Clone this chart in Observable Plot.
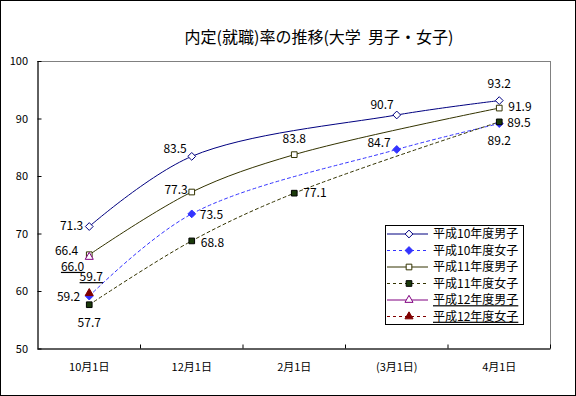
<!DOCTYPE html>
<html><head><meta charset="utf-8">
<script src="https://cdn.jsdelivr.net/npm/d3@7"></script>
<script src="https://cdn.jsdelivr.net/npm/@observablehq/plot@0.6"></script>
<style>
html,body{margin:0;padding:0;background:#fff;}
body{width:576px;height:396px;position:relative;overflow:hidden;font-family:"MS Gothic","Noto Sans CJK JP",sans-serif;}
#border{position:absolute;left:0;top:0;width:576px;height:396px;box-sizing:border-box;border:1px solid #000;pointer-events:none;z-index:5}
#chart{position:absolute;left:0;top:0;}
#title{position:absolute;left:319px;top:24px;transform:translateX(-50%);font-size:16px;white-space:nowrap;color:#000}
#legend{position:absolute;left:385px;top:225px;width:139px;height:100px;box-sizing:border-box;border:1px solid #000;background:#fff;z-index:3}
#legend svg{display:block;overflow:visible}
</style></head><body>
<div id="chart"></div>
<div id="title">内定(就職)率の推移(大学&nbsp;&nbsp;男子・女子)</div>
<div id="legend"></div>
<div id="border"></div>
<script>
const categories = ["10月1日", "12月1日", "2月1日", "(3月1日)", "4月1日"];
const seriesNames = ["平成10年度男子", "平成10年度女子", "平成11年度男子", "平成11年度女子", "平成12年度男子", "平成12年度女子"];
const h10Male   = [71.3, 83.5, null, 90.7, 93.2];
const h10Female = [59.2, 73.5, null, 84.7, 89.2];
const h11Male   = [66.4, 77.3, 83.8, null, 91.9];
const h11Female = [57.7, 68.8, 77.1, null, 89.5];
const h12Male   = [66.0, null, null, null, null];
const h12Female = [59.7, null, null, null, null];
const yTicks = [50, 60, 70, 80, 90, 100];

const seriesValues = [h10Male, h10Female, h11Male, h11Female, h12Male, h12Female];

// styles (layout, not data)
const styles = [
  {stroke: "#000080", dash: null,  symbol: "diamond2", fill: "#ffffff", mstroke: "#000080", r: 3.5},
  {stroke: "#3333ff", dash: "3,3", symbol: "diamond2", fill: "#3333ff", mstroke: "#3333ff", r: 3.5},
  {stroke: "#333300", dash: null,  symbol: "square",   fill: "#ffffff", mstroke: "#333300", r: 3.2},
  {stroke: "#333300", dash: "3,3", symbol: "square",   fill: "#1a3a0a", mstroke: "#000000", r: 3.2},
  {stroke: "#800080", dash: null,  symbol: "triangle", fill: "#ffffff", mstroke: "#800080", r: 3},
  {stroke: "#800000", dash: "3,3", symbol: "triangle", fill: "#800000", mstroke: "#800000", r: 3}
];
// label placement: [anchor, dx, dy]
const labelLayout = [
  [["end", -6, 0], ["end", -5, -7], null, ["end", -3, -10], ["middle", 0, -16]],
  [["end", -9, 1], ["start", 8, 1.5], null, ["end", -6, -6], ["middle", 0, 18]],
  [["end", -11, -3.5], ["end", -4, -2], ["middle", 0, -15], null, ["start", 9, -0.5]],
  [["middle", 0, 18], ["start", 9, 2], ["start", 9, 0], null, ["start", 8, 1.5]],
  [["end", -5, 10], null, null, null, null],
  [["middle", 2, -16], null, null, null, null]
];
const underlined = [false, false, false, false, true, true];

const rows = [];
seriesValues.forEach((vals, s) => vals.forEach((v, i) => { if (v != null) rows.push({s, i, v, name: seriesNames[s]}); }));

const W = 576, H = 396;
const mL = 37.5, mT = 61, mR = 26, mB = 47.5;
const plotW = W - mL - mR, plotH = H - mT - mB;
const font = '"MS Gothic","Noto Sans CJK JP",sans-serif';

const marks = [];
marks.push(Plot.frame({stroke: "#808080"}));
marks.push(Plot.tickY(yTicks, {y: d => d, stroke: "#000", insetRight: plotW - 4}));
marks.push(Plot.tickX(categories.map((_, i) => i + 0.5), {x: d => d, stroke: "#000", insetTop: plotH - 4}));
marks.push(Plot.ruleX([-0.5], {stroke: "#000"}));
marks.push(Plot.ruleY([50], {stroke: "#000"}));
marks.push(Plot.axisY(yTicks, {anchor: "left", label: null, tickSize: 0, tickPadding: 10, fontSize: 11}));
marks.push(Plot.axisX(categories.map((_, i) => i), {anchor: "bottom", label: null, tickSize: 0, tickPadding: 14, fontSize: 11, tickFormat: i => categories[i]}));

styles.forEach((st, s) => {
  const data = rows.filter(r => r.s === s);
  if (data.length > 1) {
    marks.push(Plot.line(data, {x: "i", y: "v", stroke: st.stroke, strokeWidth: 1, strokeDasharray: st.dash || undefined, curve: "catmull-rom"}));
  }
});
styles.forEach((st, s) => {
  const data = rows.filter(r => r.s === s);
  marks.push(Plot.dot(data, {x: "i", y: "v", symbol: () => st.symbol, r: st.r, fill: st.fill, stroke: st.mstroke, strokeWidth: 1}));
});
rows.forEach(r => {
  const L = labelLayout[r.s][r.i];
  if (!L) return;
  marks.push(Plot.text([r], {x: "i", y: "v", text: d => d.v.toFixed(1), textAnchor: L[0], dx: L[1], dy: L[2], fontSize: 12, fill: "#000"}));
});

const chart = Plot.plot({
  width: W, height: H,
  marginLeft: mL, marginTop: mT, marginRight: mR, marginBottom: mB,
  x: {domain: [-0.5, categories.length - 0.5]},
  y: {domain: [50, 100]},
  style: {fontFamily: font, fontSize: "12px", background: "transparent", color: "#000"},
  marks
});
document.getElementById("chart").appendChild(chart);

// underline labels for series flagged
const ulTexts = new Set(rows.filter(r => underlined[r.s]).map(r => r.v.toFixed(1)));
d3.select(chart).selectAll("text").filter(function() { return ulTexts.has(this.textContent); })
  .style("text-decoration", "underline");

// legend
const lg = d3.select("#legend").append("svg").attr("width", 137).attr("height", 98)
  .style("font-family", font).style("font-size", "12px");
const symMap = {diamond2: d3.symbolDiamond2, square: d3.symbolSquare, triangle: d3.symbolTriangle};
styles.forEach((st, s) => {
  const y = 8 + s * 16.5;
  const g = lg.append("g").attr("transform", `translate(0,${y})`);
  g.append("line").attr("x1", 1).attr("x2", 42).attr("y1", 0).attr("y2", 0)
    .attr("stroke", st.stroke).attr("stroke-dasharray", st.dash);
  g.append("path").attr("transform", "translate(23,0)")
    .attr("d", d3.symbol(symMap[st.symbol], Math.PI * st.r * st.r)())
    .attr("fill", st.fill).attr("stroke", st.mstroke);
  g.append("text").attr("x", 47).attr("y", 0).attr("dy", "0.35em").text(seriesNames[s])
    .style("text-decoration", underlined[s] ? "underline" : null);
});
</script>
</body></html>
